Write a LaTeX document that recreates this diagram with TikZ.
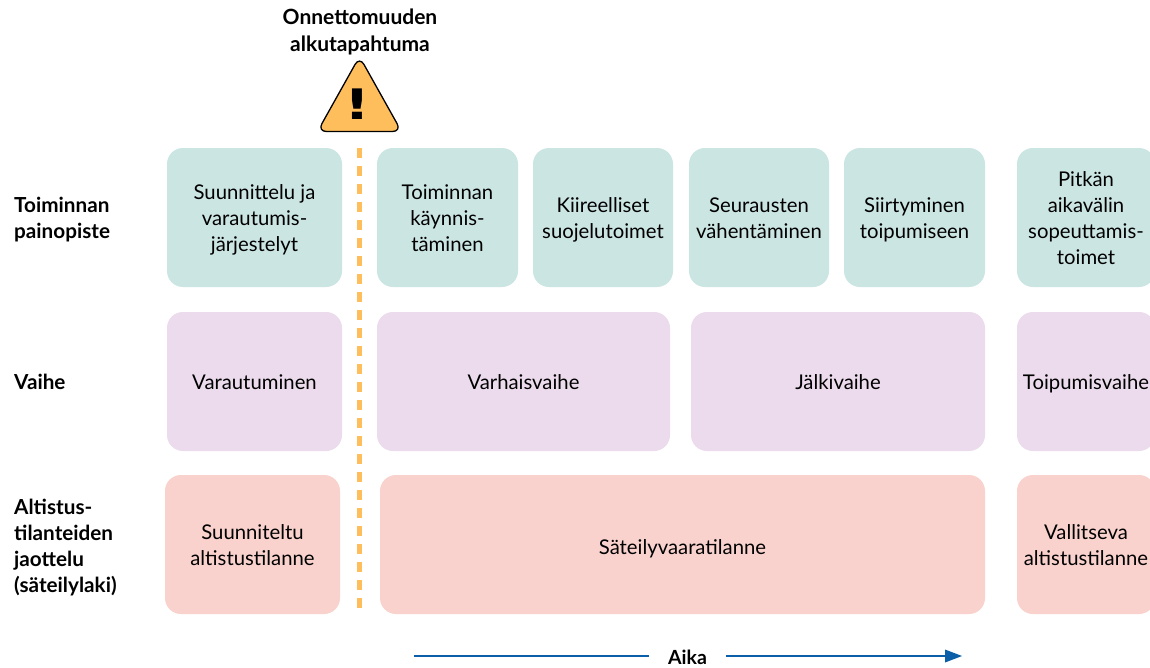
\documentclass[tikz,border=0pt]{standalone}
\usepackage{fontspec}
\usepackage{graphicx}
\setmainfont{Lato}
\newfontfamily\bangfont{DejaVu Sans}
\definecolor{tealbox}{HTML}{CBE5E3}
\definecolor{lilacbox}{HTML}{EBDBEC}
\definecolor{pinkbox}{HTML}{F9D2CD}
\definecolor{warn}{HTML}{FFBE5C}
\definecolor{axisblue}{HTML}{0A5FA8}
\newcommand{\toprl}{\rule{0pt}{21pt}}
\newcommand{\toplb}{\rule{0pt}{19pt}}
\newcommand{\botrl}{\rule[-5pt]{0pt}{5pt}}
\tikzset{
  px/.style={x=1pt,y=-1pt},
  card/.style={inner sep=0pt,outer sep=0pt,rounded corners=16pt,align=center,
    font=\fontsize{20.3}{25.7}\selectfont,text=black},
  teal/.style={card,fill=tealbox},
  lilac/.style={card,fill=lilacbox},
  pink/.style={card,fill=pinkbox},
  rowlabel/.style={anchor=west,align=left,inner sep=0pt,font=\fontsize{20.7}{26}\selectfont\bfseries},
  headlabel/.style={align=center,inner sep=0pt,font=\fontsize{21}{27}\selectfont\bfseries},
  axisline/.style={draw=axisblue,line width=2.8pt},
}
\newcommand{\cardat}[6]{% style, name, x1, y1, x2, y2 -- text follows
  \node[#1,minimum width={(#5-#3)*1pt},minimum height={(#6-#4)*1pt}] (#2) at ({(#3+#5)/2},{(#4+#6)/2})}
\begin{document}
\begin{tikzpicture}[px]
\useasboundingbox (0,0) rectangle (1150,667);
\fill[white] (0,0) rectangle (1150,667);
\begin{scope}
\clip (0,0) rectangle (1150,667);
\cardat{teal}{t1}{167}{148}{342}{287}{\toprl Suunnittelu ja\\varautumis-\\järjestelyt\botrl};
\cardat{teal}{t2}{377}{148}{518}{287}{\toprl Toiminnan\\käynnis-\\täminen\botrl};
\cardat{teal}{t3}{533}{148}{673}{287}{\toprl Kiireelliset\\suojelutoimet\botrl};
\cardat{teal}{t4}{689}{148}{829}{287}{\toprl Seurausten\\vähentäminen\botrl};
\cardat{teal}{t5}{844}{148}{985}{287}{\toprl Siirtyminen\\toipumiseen\botrl};
\cardat{teal}{t6}{1017}{148}{1155}{287}{\toprl Pitkän\\aikavälin\\sopeuttamis-\\toimet\botrl};
\cardat{lilac}{v1}{167}{312}{342}{451}{\toprl Varautuminen\botrl};
\cardat{lilac}{v2}{377}{312}{670}{451}{\toprl Varhaisvaihe\botrl};
\cardat{lilac}{v3}{691}{312}{985}{451}{\toprl Jälkivaihe\botrl};
\cardat{lilac}{v4}{1017}{312}{1155}{451}{\toprl Toipumisvaihe\botrl};
\cardat{pink}{a1}{165}{475}{340}{614}{\toprl Suunniteltu\\altistustilanne\botrl};
\cardat{pink}{a2}{380}{475}{985}{614}{\toprl\raisebox{-2pt}{Säteilyvaaratilanne}\botrl};
\cardat{pink}{a3}{1017}{475}{1155}{614}{\toprl Vallitseva\\altistustilanne\botrl};
\end{scope}
\node[rowlabel] (l1) at (14,218) {\toplb Toiminnan\\painopiste\botrl};
\node[rowlabel] (l2) at (14,382) {\toplb Vaihe\botrl};
\node[rowlabel] (l3) at (14,546) {\toplb Altistus-\\tilanteiden\\jaottelu\\(säteilylaki)\botrl};
\node[headlabel] (head) at (360,31.5) {Onnettomuuden\\alkutapahtuma};
% warning sign and dashed event line
\draw[warn,line width=5pt,dash pattern=on 10pt off 8pt] (359,148) -- (359,615);
\draw[fill=warn,draw=black,line width=1.3pt,rounded corners=9pt,line join=round]
  (359.5,56.5) -- (401.5,131.5) -- (317.5,131.5) -- cycle;
\node[inner sep=0pt,font=\fontsize{42}{42}\selectfont\bangfont\bfseries] (bang) at (357.5,104) {\scalebox{1.35}[1]{!}};
% time axis
\coordinate (tstart) at (414,656);
\coordinate (tend) at (962,656);
\node[inner sep=0pt,outer sep=0pt,minimum width=77pt,minimum height=16pt,
  font=\fontsize{19.5}{22}\selectfont\bfseries] (aika) at (687.5,657.5) {Aika};
\draw[axisline] (tstart) -- (tstart -| aika.west);
\draw[axisline] (tstart -| aika.east) -- (951,656);
\fill[axisblue] (tend) -- (945,649.5) -- (945,662.5) -- cycle;
\end{tikzpicture}
\end{document}
